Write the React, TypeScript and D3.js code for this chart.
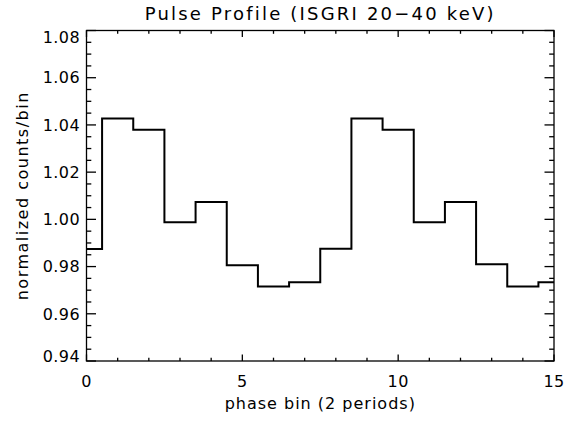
import { useEffect, useRef } from "react";
import * as d3 from "d3";

// phase bins (two periods of 8 bins) and normalized counts
const phaseBins = [0, 1, 2, 3, 4, 5, 6, 7, 8, 9, 10, 11, 12, 13, 14, 15];
const counts = [
  0.9874, 1.0427, 1.038, 0.9988, 1.0074, 0.9806, 0.9716, 0.9734,
  0.9875, 1.0427, 1.038, 0.9988, 1.0074, 0.981, 0.9716, 0.9734,
];
const xMajorTicks = [0, 5, 10, 15];
const xMinorTicks = [1, 2, 3, 4, 6, 7, 8, 9, 11, 12, 13, 14];
const yMajorTicks = [0.94, 0.96, 0.98, 1.0, 1.02, 1.04, 1.06, 1.08];
const yMinorTicks = d3.range(0, 29).map((i) => 0.94 + i * 0.005);

const W = 579;
const H = 423;
const FONT = "'DejaVu Sans', sans-serif";

export default function App() {
  const ref = useRef<SVGSVGElement>(null);

  useEffect(() => {
    if (!ref.current) return;
    const svg = d3.select(ref.current);
    svg.selectAll("*").remove();
    const m = { left: 86.5, right: 554, top: 30.5, bottom: 361 };

    const x = d3.scaleLinear().domain([0, 15]).range([m.left, m.right]);
    const y = d3.scaleLinear().domain([0.94, 1.08]).range([m.bottom, m.top]);

    const xMaj = 6.6;
    const xMin = 3.3;
    const yMaj = 9.5;
    const yMin = 4.8;

    const g = svg.append("g").attr("stroke", "#000").attr("stroke-width", 1.3).attr("fill", "none");

    // frame
    g.append("rect")
      .attr("x", m.left)
      .attr("y", m.top)
      .attr("width", m.right - m.left)
      .attr("height", m.bottom - m.top);

    // x ticks, bottom and top, pointing inward
    const xt = [
      ...xMajorTicks.map((v) => ({ v, len: xMaj })),
      ...xMinorTicks.map((v) => ({ v, len: xMin })),
    ];
    xt.forEach((t) => {
      g.append("line").attr("x1", x(t.v)).attr("x2", x(t.v)).attr("y1", m.bottom).attr("y2", m.bottom - t.len);
      g.append("line").attr("x1", x(t.v)).attr("x2", x(t.v)).attr("y1", m.top).attr("y2", m.top + t.len);
    });

    const yt = yMinorTicks.map((v) => {
      const major = yMajorTicks.some((mv) => Math.abs(mv - v) < 1e-6);
      return { v, len: major ? yMaj : yMin };
    });
    yt.forEach((t) => {
      g.append("line").attr("y1", y(t.v)).attr("y2", y(t.v)).attr("x1", m.left).attr("x2", m.left + t.len);
      g.append("line").attr("y1", y(t.v)).attr("y2", y(t.v)).attr("x1", m.right).attr("x2", m.right - t.len);
    });

    // step profile
    const line = d3
      .line<number>()
      .x((_d, i) => x(phaseBins[i]))
      .y((d) => y(d))
      .curve(d3.curveStep);
    svg
      .append("path")
      .attr("d", line(counts)!)
      .attr("fill", "none")
      .attr("stroke", "#000")
      .attr("stroke-width", 2);

    const txt = svg.append("g").attr("font-family", FONT).attr("fill", "#000");

    // x tick labels
    xMajorTicks.forEach((v) => {
      txt.append("text")
        .attr("x", x(v))
        .attr("y", 387)
        .attr("text-anchor", "middle")
        .attr("font-size", 16)
        .attr("letter-spacing", 0.4)
        .text(String(v));
    });

    // y tick labels
    yMajorTicks.forEach((v, i) => {
      let shift = 0;
      if (i === yMajorTicks.length - 1) shift = 6.5;
      if (i === 0) shift = -5;
      txt.append("text")
        .attr("x", 80)
        .attr("y", y(v) + shift)
        .attr("dy", "0.36em")
        .attr("text-anchor", "end")
        .attr("font-size", 16)
        .attr("letter-spacing", 0.4)
        .text(v.toFixed(2));
    });

    txt.append("text")
      .attr("x", (m.left + m.right) / 2)
      .attr("y", 20)
      .attr("text-anchor", "middle")
      .attr("font-size", 18)
      .attr("letter-spacing", 2.2)
      .text("Pulse Profile (ISGRI 20\u221240 keV)");

    txt.append("text")
      .attr("x", (m.left + m.right) / 2)
      .attr("y", 409)
      .attr("text-anchor", "middle")
      .attr("font-size", 16)
      .attr("letter-spacing", 1)
      .text("phase bin (2 periods)");

    txt.append("text")
      .attr("transform", `translate(28,${(m.top + m.bottom) / 2}) rotate(-90)`)
      .attr("text-anchor", "middle")
      .attr("font-size", 16)
      .attr("letter-spacing", 1.5)
      .text("normalized counts/bin");
  }, []);

  return (
    <svg
      ref={ref}
      width={W}
      height={H}
      style={{ position: "absolute", left: 0, top: 0, background: "#fff" }}
    />
  );
}
